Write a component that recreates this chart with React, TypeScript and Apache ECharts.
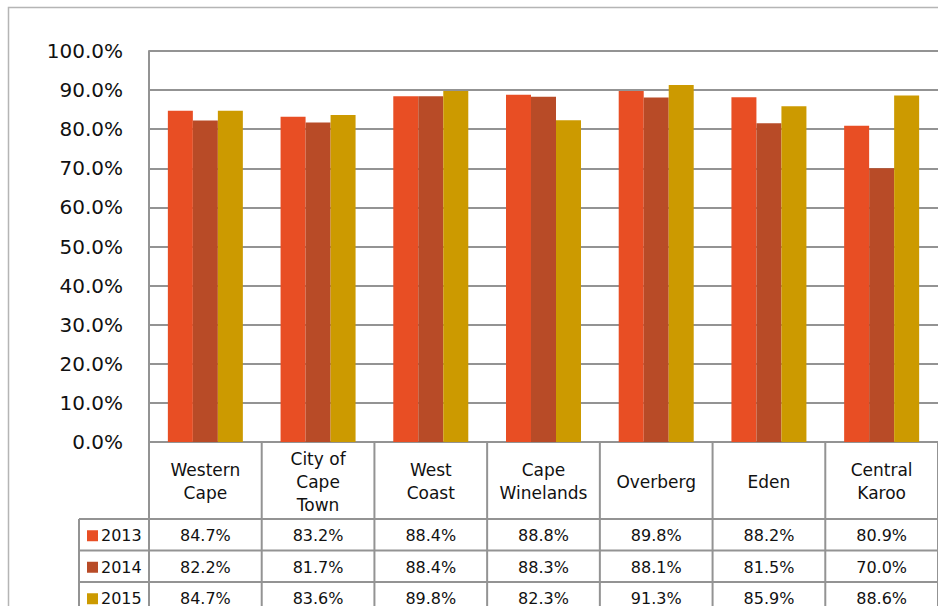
import React, { useEffect, useRef } from "react";
import * as echarts from "echarts";

const categories = ["Western\nCape", "City of\nCape\nTown", "West\nCoast", "Cape\nWinelands", "Overberg", "Eden", "Central\nKaroo"];
const years = ["2013", "2014", "2015"];
const values2013 = [84.7, 83.2, 88.4, 88.8, 89.8, 88.2, 80.9];
const values2014 = [82.2, 81.7, 88.4, 88.3, 88.1, 81.5, 70.0];
const values2015 = [84.7, 83.6, 89.8, 82.3, 91.3, 85.9, 88.6];
const colors = ["#E84E24", "#B84B27", "#CC9A00"];

const FONT = "DejaVu Sans";
const GRID = "#939393";

export default function App() {
  const ref = useRef<HTMLDivElement>(null);
  useEffect(() => {
    if (!ref.current) return;
    const chart = echarts.init(ref.current, null, { renderer: "svg" });
    const seriesData = [values2013, values2014, values2015];
    chart.setOption({
      animation: false,
      backgroundColor: "#ffffff",
      grid: { left: 149, top: 51, width: 790, height: 391, containLabel: false },
      xAxis: {
        type: "category",
        data: categories,
        axisLine: { show: true, lineStyle: { color: GRID, width: 2 } },
        axisTick: { show: false },
        axisLabel: { show: false },
        splitLine: { show: false },
      },
      yAxis: {
        type: "value",
        min: 0,
        max: 100,
        interval: 10,
        axisLine: { show: true, lineStyle: { color: GRID, width: 2 } },
        axisTick: { show: false },
        axisLabel: {
          formatter: (v: number) => v.toFixed(1) + "%",
          fontFamily: FONT,
          fontSize: 20,
          color: "#111",
          margin: 26,
        },
        splitLine: { show: true, lineStyle: { color: GRID, width: 2 } },
      },
      series: years.map((y, i) => ({
        name: y,
        type: "bar",
        data: seriesData[i],
        barWidth: 25,
        barGap: "0%",
        itemStyle: { color: colors[i] },
      })),
    });

    const c0 = chart.convertToPixel({ xAxisIndex: 0 }, 0) as number;
    const c1 = chart.convertToPixel({ xAxisIndex: 0 }, 1) as number;
    const catW = c1 - c0;
    const y0 = chart.convertToPixel({ yAxisIndex: 0 }, 0) as number;
    const left = c0 - catW / 2;
    const right = left + catW * categories.length;
    const headerBottom = y0 + 77;
    const rowH = 31.5;
    const legendLeft = 79;
    const tableBottom = headerBottom + rowH * 3 + 2;

    const g: any[] = [];
    // outer border
    g.push({
      type: "rect",
      shape: { x: 8.5, y: 7.5, width: 1000, height: 800 },
      style: { fill: "none", stroke: "#b5b5b5", lineWidth: 1.5 },
      silent: true,
    });
    const line = (x1: number, y1: number, x2: number, y2: number) => ({
      type: "line",
      shape: { x1, y1, x2, y2 },
      style: { stroke: GRID, lineWidth: 2 },
      silent: true,
    });
    // horizontal lines
    g.push(line(legendLeft, headerBottom, right, headerBottom));
    for (let r = 1; r <= 3; r++) g.push(line(legendLeft, headerBottom + rowH * r, right, headerBottom + rowH * r));
    // vertical lines
    for (let i = 0; i <= categories.length; i++) {
      const x = left + catW * i;
      g.push(line(x, y0, x, tableBottom));
    }
    g.push(line(legendLeft, headerBottom, legendLeft, tableBottom));

    categories.forEach((cat, i) => {
      const cx = chart.convertToPixel({ xAxisIndex: 0 }, i) as number;
      g.push({
        type: "text",
        x: cx,
        y: (y0 + headerBottom) / 2 + 1,
        style: {
          text: cat,
          fontFamily: FONT,
          fontSize: 17,
          lineHeight: 23,
          fill: "#111",
          align: "center",
          verticalAlign: "middle",
        },
        silent: true,
      });
      seriesData.forEach((vals, r) => {
        g.push({
          type: "text",
          x: cx,
          y: headerBottom + rowH * r + rowH / 2 + 1,
          style: {
            text: vals[i].toFixed(1) + "%",
            fontFamily: FONT,
            fontSize: 16,
            fill: "#111",
            align: "center",
            verticalAlign: "middle",
          },
          silent: true,
        });
      });
    });
    years.forEach((y, r) => {
      const cy = headerBottom + rowH * r + rowH / 2 + 1;
      g.push({
        type: "rect",
        shape: { x: 87, y: cy - 5.5, width: 11, height: 11 },
        style: { fill: colors[r] },
        silent: true,
      });
      g.push({
        type: "text",
        x: 101,
        y: cy,
        style: {
          text: y,
          fontFamily: FONT,
          fontSize: 16,
          fill: "#111",
          align: "left",
          verticalAlign: "middle",
        },
        silent: true,
      });
    });
    chart.setOption({ graphic: g });

    return () => chart.dispose();
  }, []);
  return <div ref={ref} style={{ position: "fixed", left: 0, top: 0, width: 938, height: 606 }} />;
}
